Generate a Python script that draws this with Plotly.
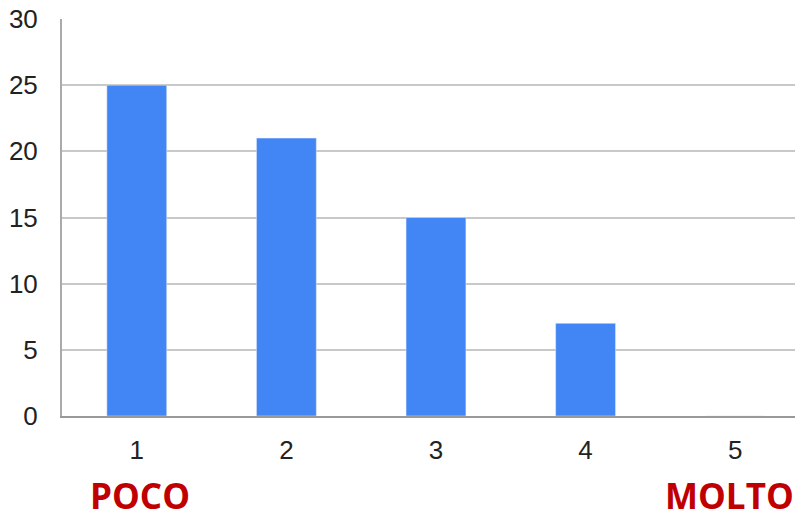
import plotly.graph_objects as go

categories = ["1", "2", "3", "4", "5"]
values = [25, 21, 15, 7, 0]
y_ticks = [0, 5, 10, 15, 20, 25, 30]
low_label = "POCO"
high_label = "MOLTO"

fig = go.Figure()
fig.add_trace(go.Bar(x=categories, y=values, marker_color="#4285F4", width=0.4))

fig.update_layout(
    width=787, height=504,
    margin=dict(l=54, r=0, t=11, b=96),
    plot_bgcolor="white", paper_bgcolor="white",
    showlegend=False,
    font=dict(family="Liberation Sans, Arial, sans-serif", size=26, color="#222"),
)
fig.update_xaxes(
    type="category", range=[-0.5, 4.4], automargin=False,
    showgrid=False, showline=True, linecolor="#999", linewidth=2,
    ticks="", ticklabelstandoff=10,
)
fig.update_yaxes(
    range=[0, 30], tickvals=y_ticks, automargin=False,
    showgrid=True, gridcolor="#c8c8c8", gridwidth=1.5,
    showline=True, linecolor="#aaa", linewidth=2,
    zeroline=False, ticks="", ticklabelstandoff=17,
    ticklabeloverflow="allow",
)
for idx, txt, shift in [(0, low_label, 3), (4, high_label, -6)]:
    fig.add_annotation(
        x=idx, xref="x", y=-0.2, yref="paper", text=f"<b>{txt}</b>",
        showarrow=False, yanchor="middle", xshift=shift, height=34,
        font=dict(family="Open Sans, sans-serif", size=35, color="#C00000"),
    )

fig.write_html("out.html")
